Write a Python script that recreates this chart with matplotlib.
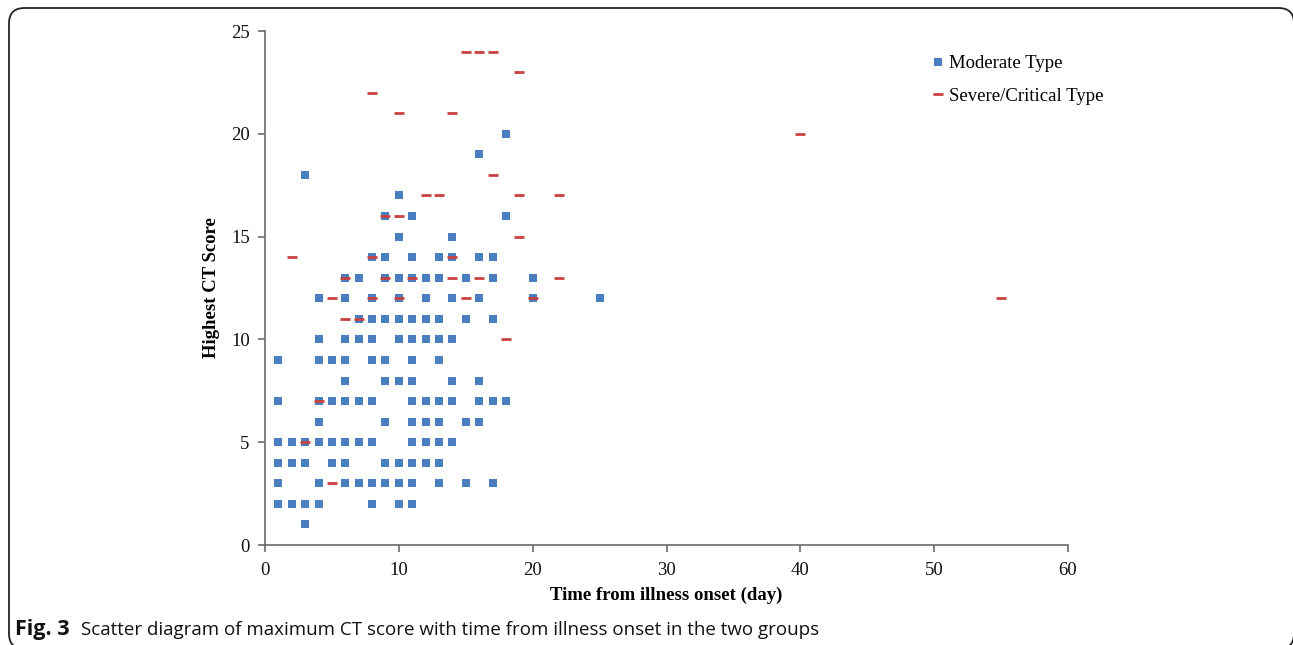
import matplotlib
matplotlib.use("Agg")
import matplotlib.pyplot as plt
from matplotlib.patches import FancyBboxPatch

# ---- data ----
moderate_rows = {
    20: [18],
    19: [16],
    18: [3],
    17: [10],
    16: [9, 11, 18],
    15: [10, 14],
    14: [8, 9, 11, 13, 14, 16, 17],
    13: [6, 7, 9, 10, 11, 12, 13, 15, 17, 20],
    12: [4, 6, 8, 10, 12, 14, 16, 20, 25],
    11: [7, 8, 9, 10, 11, 12, 13, 15, 17],
    10: [4, 6, 7, 8, 10, 11, 12, 13, 14],
    9: [1, 4, 5, 6, 8, 9, 11, 13],
    8: [6, 9, 10, 11, 14, 16],
    7: [1, 4, 5, 6, 7, 8, 11, 12, 13, 14, 16, 17, 18],
    6: [4, 9, 11, 12, 13, 15, 16],
    5: [1, 2, 3, 4, 5, 6, 7, 8, 11, 12, 13, 14],
    4: [1, 2, 3, 5, 6, 9, 10, 11, 12, 13],
    3: [1, 4, 6, 7, 8, 9, 10, 11, 13, 15, 17],
    2: [1, 2, 3, 4, 8, 10, 11],
    1: [3],
}
severe_rows = {
    24: [15, 16, 17],
    23: [19],
    22: [8],
    21: [10, 14],
    20: [40],
    18: [17],
    17: [12, 13, 19, 22],
    16: [9, 10],
    15: [19],
    14: [2, 8, 14],
    13: [6, 9, 11, 14, 16, 22],
    12: [5, 8, 10, 15, 20, 55],
    11: [6, 7],
    10: [18],
    7: [4],
    5: [3],
    3: [5],
}
moderate_x = [x for y, xs in moderate_rows.items() for x in xs]
moderate_y = [y for y, xs in moderate_rows.items() for x in xs]
severe_x = [x for y, xs in severe_rows.items() for x in xs]
severe_y = [y for y, xs in severe_rows.items() for x in xs]

x_ticks = [0, 10, 20, 30, 40, 50, 60]
y_ticks = [0, 5, 10, 15, 20, 25]
series_labels = ["Moderate Type", "Severe/Critical Type"]

BLUE = "#4A7EBF"
RED = "#C8413E"
SPINE = "#6b6b6b"
serif = ["Liberation Serif", "DejaVu Serif"]
FS = 13.5

fig = plt.figure(figsize=(12.93, 6.45), dpi=100)

# rounded frame around the figure (bottom and right run off the page)
frame = FancyBboxPatch((9 / 1293, -4 / 645), (1294 - 9) / 1293, 1 - 4 / 645,
                       boxstyle="round,pad=0,rounding_size=0.012",
                       transform=fig.transFigure, fill=False,
                       edgecolor="#222222", linewidth=1.3, zorder=0,
                       mutation_aspect=2.0)
fig.patches.append(frame)

ax = fig.add_axes([265 / 1293, 1 - 545 / 645, (1068 - 265) / 1293, (545 - 31) / 645])

ax.plot(moderate_x, moderate_y, linestyle="none", marker="s", markersize=5.2,
        color=BLUE, markeredgewidth=0, label=series_labels[0], zorder=2)
ax.plot(severe_x, severe_y, linestyle="none", marker="_", markersize=7,
        markeredgewidth=2.0, color=RED, label=series_labels[1], zorder=3)

ax.set_xlim(0, 60)
ax.set_ylim(0, 25)
ax.set_xticks(x_ticks)
ax.set_yticks(y_ticks)
ax.set_xticklabels([str(v) for v in x_ticks], family=serif, fontsize=FS)
ax.set_yticklabels([str(v) for v in y_ticks], family=serif, fontsize=FS)

for s in ["top", "right"]:
    ax.spines[s].set_visible(False)
for s in ["left", "bottom"]:
    ax.spines[s].set_color(SPINE)
    ax.spines[s].set_linewidth(1.2)
ax.tick_params(axis="both", direction="out", length=5, width=1.2, pad=7)
ax.tick_params(axis="x", colors=SPINE, labelcolor="#111111")
ax.tick_params(axis="y", colors=SPINE, labelcolor="#111111", pad=6)

ax.set_xlabel("Time from illness onset (day)", family=serif, fontsize=FS,
              fontweight="bold", labelpad=6)
ax.set_ylabel("Highest CT Score", family=serif, fontsize=FS,
              fontweight="bold", labelpad=8)

leg = ax.legend(loc="upper left", bbox_to_anchor=(0.818, 0.975), frameon=False,
                prop={"family": serif, "size": FS}, handlelength=0.5,
                handletextpad=0.35, labelspacing=0.82, markerscale=1.0,
                borderaxespad=0.2)

cap_y = 1 - 635 / 645
fig.text(15 / 1293, cap_y, "Fig. 3", family=["Open Sans", "DejaVu Sans"],
         fontsize=15.5, fontweight="bold", va="baseline", ha="left", color="#111111")
fig.text(81 / 1293, cap_y,
         "Scatter diagram of maximum CT score with time from illness onset in the two groups",
         family=["Open Sans", "DejaVu Sans"], fontsize=13.5, va="baseline", ha="left",
         color="#111111")

fig.savefig("out.png", dpi=100)
